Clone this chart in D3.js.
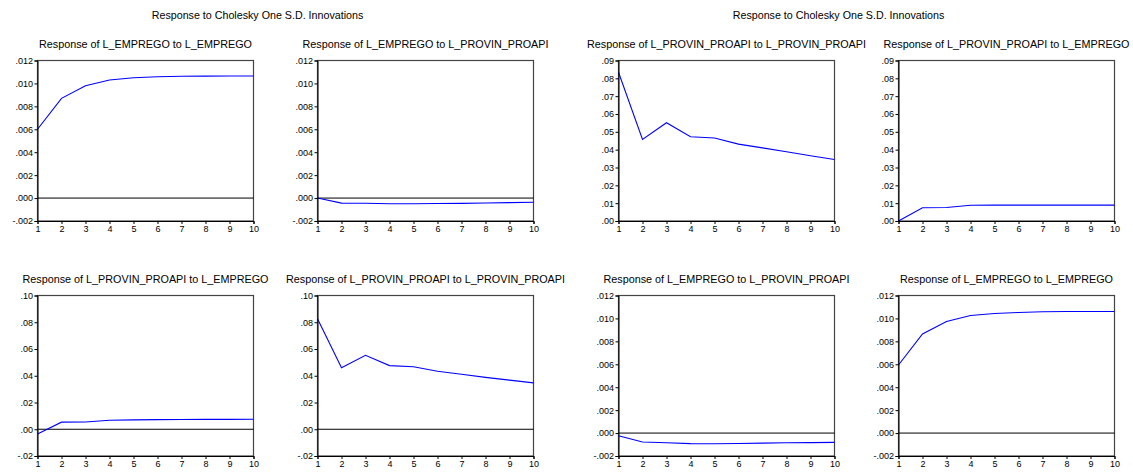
<!DOCTYPE html>
<html>
<head>
<meta charset="utf-8">
<script src="https://cdn.jsdelivr.net/npm/d3@7"></script>
<style>
  html, body { margin: 0; padding: 0; background: #fff; }
  svg { display: block; font-family: "Liberation Sans", Arial, sans-serif; }
</style>
</head>
<body>
<svg id="chart" width="1133" height="474"></svg>
<script>
// ---- Data ----
const periods = [1, 2, 3, 4, 5, 6, 7, 8, 9, 10];

const mainTitles = ["Response to Cholesky One S.D. Innovations", "Response to Cholesky One S.D. Innovations"];

const panelTitles = [
  "Response of L_EMPREGO to L_EMPREGO",
  "Response of L_EMPREGO to L_PROVIN_PROAPI",
  "Response of L_PROVIN_PROAPI to L_EMPREGO",
  "Response of L_PROVIN_PROAPI to L_PROVIN_PROAPI",
  "Response of L_PROVIN_PROAPI to L_PROVIN_PROAPI",
  "Response of L_PROVIN_PROAPI to L_EMPREGO",
  "Response of L_EMPREGO to L_PROVIN_PROAPI",
  "Response of L_EMPREGO to L_EMPREGO"
];

// Left figure (ordering: L_EMPREGO first)
const empToEmpA   = [0.0060, 0.0087, 0.0098, 0.0103, 0.0105, 0.01058, 0.01062, 0.01064, 0.01065, 0.01065];
const empToProvA  = [0.0000, -0.00044, -0.00045, -0.00050, -0.00050, -0.00048, -0.00046, -0.00043, -0.00040, -0.00036];
const provToEmpA  = [-0.0035, 0.0053, 0.0054, 0.0067, 0.0070, 0.0072, 0.0073, 0.0074, 0.0074, 0.0075];
const provToProvA = [0.0826, 0.0459, 0.0553, 0.0476, 0.0467, 0.0434, 0.0411, 0.0388, 0.0367, 0.0347];

// Right figure (ordering: L_PROVIN_PROAPI first)
const provToProvB = [0.0834, 0.0457, 0.0551, 0.0472, 0.0465, 0.0431, 0.0410, 0.0388, 0.0366, 0.0345];
const provToEmpB  = [0.0000, 0.0074, 0.0076, 0.0088, 0.0089, 0.0089, 0.0089, 0.0089, 0.0089, 0.0089];
const empToProvB  = [-0.00023, -0.00078, -0.00084, -0.00092, -0.00093, -0.00091, -0.00088, -0.00085, -0.00083, -0.00081];
const empToEmpB   = [0.00594, 0.00864, 0.00974, 0.01026, 0.01043, 0.01052, 0.01058, 0.01060, 0.01061, 0.01061];

// Y-axis ticks
const ticksEmp  = [-0.002, 0.000, 0.002, 0.004, 0.006, 0.008, 0.010, 0.012];
const ticksProvA = [-0.02, 0.00, 0.02, 0.04, 0.06, 0.08, 0.10];
const ticksProvB = [0.00, 0.01, 0.02, 0.03, 0.04, 0.05, 0.06, 0.07, 0.08, 0.09];

// ---- Layout ----
const svg = d3.select("#chart");
const W = 216, H = 160.5;

const panels = [
  { left: 37.5,  top: 60.5,  title: panelTitles[0], data: empToEmpA,   domain: [-0.002, 0.012], ticks: ticksEmp,   dec: 3 },
  { left: 317.5, top: 60.5,  title: panelTitles[1], data: empToProvA,  domain: [-0.002, 0.012], ticks: ticksEmp,   dec: 3 },
  { left: 37.5,  top: 295.5, title: panelTitles[2], data: provToEmpA,  domain: [-0.02, 0.10],   ticks: ticksProvA, dec: 2 },
  { left: 317.5, top: 295.5, title: panelTitles[3], data: provToProvA, domain: [-0.02, 0.10],   ticks: ticksProvA, dec: 2 },
  { left: 618.5, top: 60.5,  title: panelTitles[4], data: provToProvB, domain: [0.00, 0.09],    ticks: ticksProvB, dec: 2 },
  { left: 898.5, top: 60.5,  title: panelTitles[5], data: provToEmpB,  domain: [0.00, 0.09],    ticks: ticksProvB, dec: 2 },
  { left: 618.5, top: 295.5, title: panelTitles[6], data: empToProvB,  domain: [-0.002, 0.012], ticks: ticksEmp,   dec: 3 },
  { left: 898.5, top: 295.5, title: panelTitles[7], data: empToEmpB,   domain: [-0.002, 0.012], ticks: ticksEmp,   dec: 3 }
];

function fmt(v, dec) {
  let s = Math.abs(v).toFixed(dec).replace(/^0/, "");
  return (v < -1e-12 ? "-" : "") + s;
}

// Main titles
[257.5, 838.5].forEach((cx, i) => {
  svg.append("text")
    .attr("x", cx).attr("y", 19)
    .attr("text-anchor", "middle")
    .attr("font-size", 10.7)
    .attr("fill", "#000")
    .text(mainTitles[i]);
});

panels.forEach(p => {
  const g = svg.append("g").attr("transform", `translate(${p.left},${p.top})`);
  const x = d3.scaleLinear().domain([1, 10]).range([0, W]);
  const y = d3.scaleLinear().domain(p.domain).range([H, 0]);

  // title
  g.append("text")
    .attr("x", W / 2).attr("y", -12.5)
    .attr("text-anchor", "middle")
    .attr("font-size", 10.8)
    .attr("fill", "#000")
    .text(p.title);

  // frame
  g.append("rect")
    .attr("x", 0).attr("y", 0).attr("width", W).attr("height", H)
    .attr("fill", "none").attr("stroke", "#444").attr("stroke-width", 1.2);

  // zero line
  if (p.domain[0] < 0) {
    g.append("line")
      .attr("x1", 0).attr("x2", W)
      .attr("y1", y(0)).attr("y2", y(0))
      .attr("stroke", "#000").attr("stroke-width", 1);
  }

  // line
  const line = d3.line().x((d, i) => x(periods[i])).y(d => y(d));
  g.append("path")
    .datum(p.data)
    .attr("d", line)
    .attr("fill", "none")
    .attr("stroke", "#0000ff")
    .attr("stroke-width", 1.1);

  // axes
  const yAxis = d3.axisLeft(y).tickValues(p.ticks).tickSize(3).tickPadding(1.5)
    .tickFormat(d => fmt(d, p.dec));
  const ya = g.append("g").call(yAxis);
  ya.select(".domain").attr("stroke", "#000");
  ya.selectAll("text").attr("font-size", 9).attr("fill", "#000")
    .attr("font-family", "'Liberation Sans', Arial, sans-serif");

  const xAxis = d3.axisBottom(x).tickValues(periods).tickSize(3).tickPadding(2)
    .tickFormat(d3.format("d"));
  const xa = g.append("g").attr("transform", `translate(0,${H})`).call(xAxis);
  xa.select(".domain").attr("stroke", "#000");
  xa.selectAll("text").attr("font-size", 9).attr("fill", "#000")
    .attr("font-family", "'Liberation Sans', Arial, sans-serif");
});
</script>
</body>
</html>
